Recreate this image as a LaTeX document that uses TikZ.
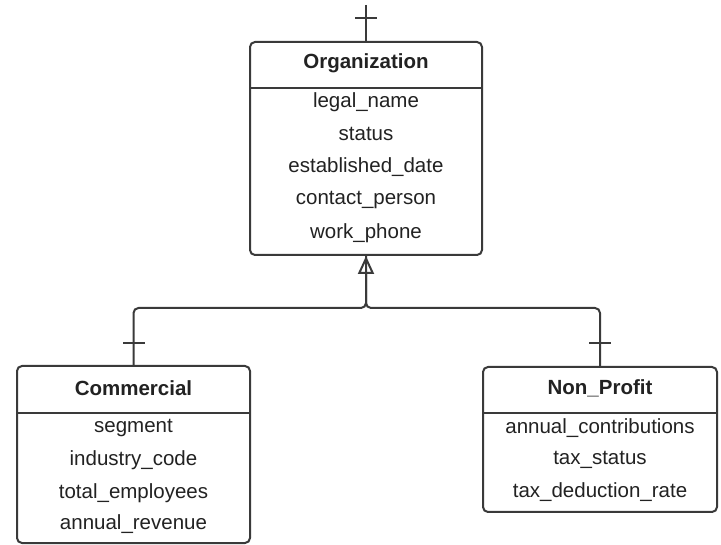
\documentclass[tikz,border=0pt]{standalone}
\usepackage{fontspec}
\setmainfont{Liberation Sans}
\usetikzlibrary{arrows.meta}
\definecolor{ink}{HTML}{222222}
\definecolor{edge}{HTML}{3A3A3A}
\tikzset{
  entity/.style={draw=edge, line width=2pt, rounded corners=5pt, fill=white,
    inner sep=0pt},
  sepline/.style={draw=edge, line width=2pt},
  title/.style={text=ink, font=\fontsize{20.5}{22}\selectfont\bfseries, inner sep=0pt},
  attr/.style={text=ink, font=\fontsize{20.5}{22}\selectfont, inner sep=0pt},
  conn/.style={draw=edge, line width=2pt},
  tick/.style={draw=edge, line width=2pt},
  isa/.style={-{Triangle[open, length=18pt, width=16pt, line width=2pt]}}
}
\begin{document}
\begin{tikzpicture}[x=1pt, y=-1pt]
\useasboundingbox (0,0) rectangle (721,545);

% Organization entity
\node[entity, minimum width=232pt, minimum height=213pt] (org) at (366,148.5) {};
\draw[sepline] (250,88) -- (482,88);
\node[title] (orgT) at (366,63) {Organization};
\node[attr] (o1) at (366,102) {legal\_name};
\node[attr] (o2) at (366,134) {status};
\node[attr] (o3) at (366,167) {established\_date};
\node[attr] (o4) at (366,200) {contact\_person};
\node[attr] (o5) at (366,233) {work\_phone};

% Commercial entity
\node[entity, minimum width=233pt, minimum height=177pt] (com) at (133.5,454.5) {};
\draw[sepline] (17,413) -- (250,413);
\node[title] (comT) at (133.5,388) {Commercial};
\node[attr] (c1) at (133.5,428) {segment};
\node[attr] (c2) at (133.5,460) {industry\_code};
\node[attr] (c3) at (133.5,493) {total\_employees};
\node[attr] (c4) at (133.5,524) {annual\_revenue};

% Non_Profit entity
\node[entity, minimum width=234pt, minimum height=145pt] (np) at (600,439.5) {};
\draw[sepline] (483,413) -- (717,413);
\node[title] (npT) at (600,388) {Non\_Profit};
\node[attr] (n1) at (600,428) {annual\_contributions};
\node[attr] (n2) at (600,460) {tax\_status};
\node[attr] (n3) at (600,492) {tax\_deduction\_rate};

% relationship entering from above
\coordinate (topend) at (366,5);
\draw[conn] (topend) -- (org.north);
\draw[tick] (355,18) -- (377,18);

% generalisation: subtypes joined to the supertype
\coordinate (jun) at (366,308);
\draw[conn, rounded corners=5pt] (com.north) |- (jun) -- (org.south);
\draw[conn, rounded corners=5pt, isa] (np.north) |- (jun) -- (org.south);
\draw[tick] (123,343) -- (145,343);
\draw[tick] (589,343) -- (611,343);
\end{tikzpicture}
\end{document}
